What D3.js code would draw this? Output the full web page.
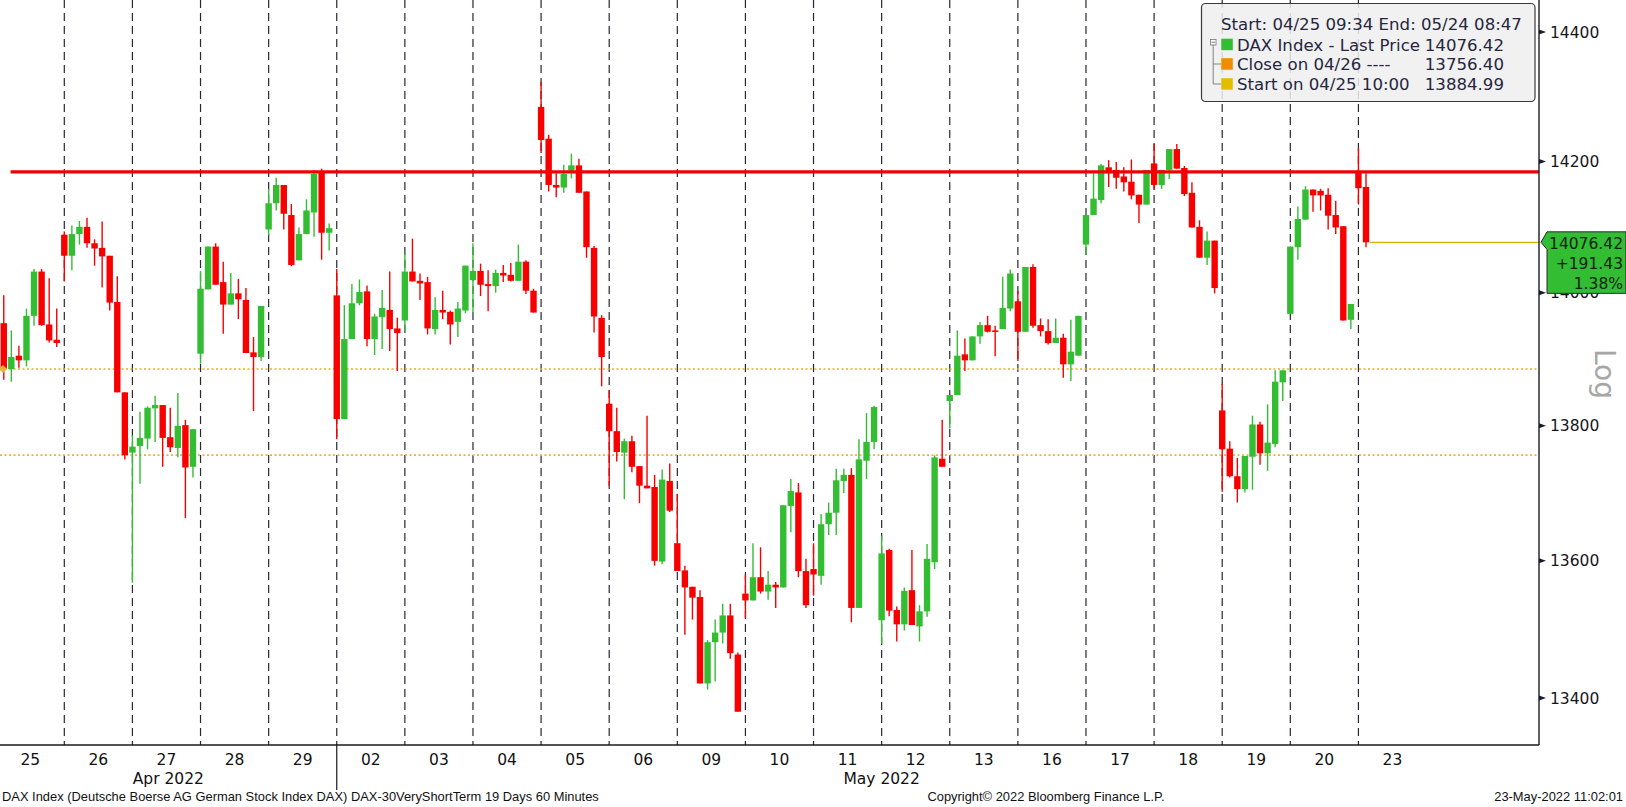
<!DOCTYPE html>
<html><head><meta charset="utf-8">
<script src="https://cdn.jsdelivr.net/npm/d3@7"></script>
<style>html,body{margin:0;padding:0;background:#fff;} svg{display:block;}</style>
</head><body>
<svg id="chart" width="1626" height="807"></svg>
<script>
// ---------------- DATA ----------------
const dayLabels = ["25","26","27","28","29","02","03","04","05","06","09","10","11","12","13","16","17","18","19","20","23"];
const monthLabels = ["Apr 2022", "May 2022"];
const monthFirstDay = [0, 5];          // index into dayLabels
const barsPerDay = [8,9,9,9,9,9,9,9,9,9,9,9,9,9,9,9,9,9,9,9,2];
const firstBarHour = [10,9,9,9,9,9,9,9,9,9,9,9,9,9,9,9,9,9,9,9,9];

const opens = [
 13954,13885,13905,13898,13965,14032,13952,13929,
 14088,14056,14089,14100,14075,14068,14056,13986,13850,
 13760,13770,13781,13826,13831,13783,13767,13801,13739,
 13908,14005,14070,14016,13982,13999,13989,13910,13903,
 14096,14136,14164,14118,14049,14089,14122,14184,14091,
 13996,13810,13930,13984,14002,13930,13963,13974,13946,
 13958,14032,14018,14016,13945,13974,13971,13956,13973,
 14019,14033,14013,14010,14030,14027,14018,14047,14003,
 14284,14235,14164,14160,14186,14194,14154,14068,13962,
 13833,13792,13760,13777,13740,13711,13709,13599,13718,
 13626,13586,13562,13547,13421,13481,13495,13520,13463,
 13552,13542,13576,13555,13565,13561,13681,13701,13585,
 13588,13578,13654,13671,13718,13727,13531,13748,13776,
 13513,13616,13528,13507,13557,13504,13526,13598,13751,
 13837,13846,13907,13898,13934,13951,13943,13945,13976,
 13987,13941,14039,13951,13942,13924,13932,13892,13905,
 14073,14118,14141,14191,14187,14177,14169,14149,14134,
 14197,14164,14187,14219,14190,14152,14100,14053,14079,
 13823,13766,13725,13706,13754,13802,13759,13773,13865,
 13968,14069,14111,14157,14155,14149,14118,14101,13959,
 14184,14161
];
const highs = [
 13996,13943,13920,13976,14036,14036,14022,13976,
 14093,14102,14109,14114,14081,14108,14056,14025,13850,
 13786,13821,13829,13845,13831,13827,13849,13809,13795,
 14033,14070,14075,14047,14030,14021,14007,13933,13980,
 14158,14175,14164,14135,14099,14142,14187,14189,14105,
 14036,13981,14013,14020,14011,13968,14004,14032,13962,
 14060,14082,14029,14024,13993,14003,13973,13986,14041,
 14075,14044,14034,14035,14042,14045,14073,14049,14006,
 14323,14241,14182,14195,14212,14204,14154,14071,13966,
 13853,13827,13781,13785,13740,13815,13727,13735,13744,
 13699,13593,13562,13557,13484,13514,13537,13537,13466,
 13579,13626,13620,13585,13569,13682,13721,13715,13603,
 13626,13669,13686,13736,13736,13737,13780,13819,13830,
 13637,13618,13533,13561,13616,13535,13625,13756,13809,
 13846,13943,13931,13934,13956,13965,13950,14024,14035,
 14003,14039,14043,13961,13960,13961,13938,13959,13965,
 14118,14182,14196,14202,14199,14191,14203,14149,14187,
 14227,14187,14219,14227,14193,14168,14110,14093,14079,
 13863,13777,13752,13755,13815,13806,13832,13883,13883,
 14070,14131,14162,14157,14158,14159,14140,14101,13983,
 14220,14182
];
const lows = [
 13869,13866,13887,13889,13950,13950,13925,13918,
 14017,14034,14073,14068,14041,14008,13973,13850,13750,
 13568,13714,13765,13776,13739,13761,13753,13663,13723,
 13893,14005,14012,13938,13982,13960,13909,13822,13897,
 14087,14125,14096,14040,14049,14089,14085,14050,14064,
 13780,13810,13930,13981,13919,13906,13915,13912,13882,
 13942,14017,13989,13937,13937,13960,13922,13933,13969,
 13969,13995,13972,14000,14016,14017,14018,13998,13970,
 14213,14154,14145,14152,14174,14152,14053,13940,13859,
 13711,13747,13691,13731,13685,13707,13593,13595,13672,
 13585,13492,13514,13421,13412,13424,13479,13457,13380,
 13516,13542,13552,13543,13531,13561,13642,13576,13531,
 13549,13565,13638,13638,13700,13510,13531,13721,13765,
 13479,13519,13482,13498,13506,13482,13518,13588,13739,
 13796,13846,13882,13898,13923,13940,13904,13945,13972,
 13897,13941,13947,13934,13922,13924,13872,13867,13905,
 14057,14118,14136,14161,14158,14154,14142,14106,14134,
 14157,14158,14173,14189,14147,14099,14053,14042,13999,
 13702,13723,13686,13701,13705,13742,13733,13768,13837,
 13968,14050,14111,14123,14125,14096,14089,13958,13945,
 14134,14069
];
const closes = [
 13884.99,13903,13898,13965,14032,13951,13928,13924,
 14056,14089,14100,14075,14067,14055,13985,13850,13756.40,
 13769,13782,13827,13831,13782,13768,13800,13738,13795,
 14006,14070,14012,13982,13999,13990,13909,13903,13980,
 14136,14164,14120,14042,14089,14125,14181,14091,14098,
 13810,13930,13984,14001,13930,13964,13977,13945,13939,
 14032,14017,14014,13946,13974,13970,13952,13976,14041,
 14033,14012,14010,14030,14026,14018,14047,14003,13970,
 14233,14164,14160,14181,14194,14152,14069,13964,13903,
 13792,13761,13777,13739,13711,13707,13600,13720,13674,
 13585,13561,13546,13421,13481,13495,13520,13465,13380,
 13542,13576,13555,13565,13561,13682,13703,13585,13535,
 13580,13654,13671,13719,13727,13531,13750,13776,13828,
 13611,13527,13507,13556,13506,13526,13603,13753,13739,
 13846,13905,13898,13934,13951,13941,13941,13977,14029,
 13941,14039,13950,13942,13924,13932,13892,13911,13965,
 14118,14143,14194,14182,14175,14168,14148,14134,14187,
 14164,14187,14219,14189,14150,14099,14053,14079,14007,
 13765,13725,13706,13755,13802,13759,13775,13866,13883,
 14070,14112,14157,14148,14148,14117,14099,13958,13983,
 14159,14076.42
];
const priceTicks = [13400, 13600, 13800, 14000, 14200, 14400];
const resistanceLevel = 14184;
const startLevel = 13884.99;   // Start on 04/25 10:00
const closeLevel = 13756.40;   // Close on 04/26
const lastPrice = 14076.42;
const legendHeader = "Start: 04/25 09:34 End: 05/24 08:47";
const legendNames = ["DAX Index - Last Price", "Close on 04/26 ----", "Start on 04/25 10:00"];
const legendValues = [lastPrice, closeLevel, startLevel];
const footerLeft = "DAX Index (Deutsche Boerse AG German Stock Index DAX) DAX-30VeryShortTerm 19 Days 60 Minutes";
const footerMid = "Copyright\u00A9 2022 Bloomberg Finance L.P.";
const footerRight = "23-May-2022 11:02:01";

// ---------------- BUILD ----------------
const W = 1626, H = 807;
const plotW = 1539, plotH = 745;
const HOURS = 9;
const UP = "#33bd33", DOWN = "#f80000";
const FONT = "'DejaVu Sans', Verdana, sans-serif";

const bars = [];
let k = 0;
barsPerDay.forEach((n, d) => {
  for (let i = 0; i < n; i++) {
    bars.push({slot: d * HOURS + (firstBarHour[d] - 9) + i,
      o: opens[k], h: highs[k], l: lows[k], c: closes[k]});
    k++;
  }
});

const svg = d3.select("#chart");
const x = d3.scaleLinear().domain([0.503, 203.86]).range([0, plotW]);
const y = d3.scaleLog().domain([13332, 14450]).range([plotH, 0]);

svg.append("rect").attr("width", W).attr("height", H).attr("fill", "#fff");

// legend box (under separators)
const lg = svg.append("g");
lg.append("rect").attr("x", 1201.5).attr("y", 3.5).attr("width", 333.5).attr("height", 98)
  .attr("rx", 4).attr("fill", "#efefef").attr("stroke", "#3a3a3a").attr("stroke-width", 1.2);

// day separators
const sepG = svg.append("g");
for (let j = 1; j < dayLabels.length; j++) {
  sepG.append("line").attr("x1", x(j * HOURS)).attr("x2", x(j * HOURS))
    .attr("y1", 0).attr("y2", plotH)
    .attr("stroke", "#1c1c2c").attr("stroke-width", 1.2).attr("stroke-dasharray", "8,5")
    .attr("opacity", 0.95);
}

// reference dotted lines
svg.append("line").attr("x1", 0).attr("x2", plotW).attr("y1", y(startLevel)).attr("y2", y(startLevel))
  .attr("stroke", "#e2b800").attr("stroke-width", 1.6).attr("stroke-dasharray", "2,2.5");
svg.append("line").attr("x1", 0).attr("x2", plotW).attr("y1", y(closeLevel)).attr("y2", y(closeLevel))
  .attr("stroke", "#f0ae3c").attr("stroke-width", 1.6).attr("stroke-dasharray", "2,2.5");

// candles
const bw = 6.4;
const cg = svg.append("g");
const cs = cg.selectAll("g.c").data(bars).join("g");
cs.append("line")
  .attr("x1", d => x(d.slot)).attr("x2", d => x(d.slot))
  .attr("y1", d => y(d.h)).attr("y2", d => y(d.l))
  .attr("stroke", d => d.c >= d.o ? UP : DOWN).attr("stroke-width", 1.4);
cs.append("rect")
  .attr("x", d => x(d.slot) - bw / 2).attr("width", bw)
  .attr("y", d => y(Math.max(d.o, d.c)))
  .attr("height", d => Math.max(1.5, Math.abs(y(d.o) - y(d.c))))
  .attr("fill", d => d.c >= d.o ? UP : DOWN);

// start marker
const sy = y(startLevel);
svg.append("path").attr("d", `M0,${sy - 4} L4,${sy} L0,${sy + 4} L-4,${sy} Z`)
  .attr("transform", "translate(3,0)").attr("fill", "#e8b43a");

// last price line
const lastBar = bars[bars.length - 1];
svg.append("line").attr("x1", x(lastBar.slot) + 4).attr("x2", plotW)
  .attr("y1", y(lastPrice)).attr("y2", y(lastPrice))
  .attr("stroke", "#dcb200").attr("stroke-width", 1.1);

// resistance line
svg.append("line").attr("x1", x(1.9)).attr("x2", plotW)
  .attr("y1", y(resistanceLevel)).attr("y2", y(resistanceLevel))
  .attr("stroke", "#f00000").attr("stroke-width", 3.2);

// legend contents
lg.raise();
lg.select("rect").attr("fill-opacity", 0.86);
lg.append("text").attr("x", 1221).attr("y", 30).text(legendHeader)
  .attr("font-family", FONT).attr("font-size", 16.6).attr("fill", "#262640");
const swatch = [UP, "#f08c00", "#e5bd00"];
const rowY = [44.5, 64, 84];
// tree lines
lg.append("rect").attr("x", 1210.5).attr("y", 39.5).attr("width", 5.5).attr("height", 5.5)
  .attr("fill", "#fff").attr("stroke", "#777").attr("stroke-width", 0.8);
lg.append("line").attr("x1", 1211.5).attr("x2", 1215).attr("y1", 42.2).attr("y2", 42.2).attr("stroke", "#555").attr("stroke-width", 0.8);
lg.append("path").attr("d", "M1213.2,45 V84 H1221 M1213.2,64 H1221")
  .attr("fill", "none").attr("stroke", "#777").attr("stroke-width", 0.9);
legendNames.forEach((nm, i) => {
  lg.append("rect").attr("x", 1221.3).attr("y", rowY[i] - 5.8).attr("width", 11.5).attr("height", 11.5)
    .attr("fill", swatch[i]);
  lg.append("text").attr("x", 1237).attr("y", rowY[i] + 6).text(nm)
    .attr("font-family", FONT).attr("font-size", 16.6).attr("fill", "#262640");
  lg.append("text").attr("x", 1504).attr("y", rowY[i] + 6).attr("text-anchor", "end")
    .text(legendValues[i].toFixed(2))
    .attr("font-family", FONT).attr("font-size", 16.6).attr("fill", "#262640");
});

// axes lines
svg.append("line").attr("x1", 0).attr("x2", plotW).attr("y1", plotH).attr("y2", plotH)
  .attr("stroke", "#1a1a1a").attr("stroke-width", 1.4);
svg.append("line").attr("x1", plotW).attr("x2", plotW).attr("y1", 0).attr("y2", plotH)
  .attr("stroke", "#1a1a2a").attr("stroke-width", 1.4);

// right price axis
const ya = svg.append("g");
priceTicks.forEach(t => {
  const ty = y(t);
  ya.append("path").attr("d", `M${plotW},${ty - 2.5} L${plotW + 7},${ty} L${plotW},${ty + 2.5} Z`)
    .attr("fill", "#1a1a2a");
  ya.append("text").attr("x", 1550).attr("y", ty).attr("dy", "0.36em").text(t)
    .attr("font-family", FONT).attr("font-size", 15.5).attr("fill", "#151520");
});

// Log label
svg.append("text").attr("transform", "translate(1595,374) rotate(90)")
  .attr("text-anchor", "middle").text("Log")
  .attr("font-family", FONT).attr("font-size", 28).attr("fill", "#a6a6a6");

// last price tag
const ly = y(lastPrice);
const chg = lastPrice - startLevel;
const pct = chg / startLevel * 100;
svg.append("path")
  .attr("d", `M1541,${ly} L1547,${ly - 10.5} H1626 V${ly + 51} H1547 V${ly + 7} Z`)
  .attr("fill", "#33bd33").attr("stroke", "#2a2a2a").attr("stroke-width", 1);
[lastPrice.toFixed(2), "+" + chg.toFixed(2), pct.toFixed(2) + "%"].forEach((s, i) => {
  svg.append("text").attr("x", 1623).attr("y", ly + 1 + i * 20).attr("dy", "0.36em")
    .attr("text-anchor", "end").text(s)
    .attr("font-family", FONT).attr("font-size", 15.5).attr("fill", "#0c240c");
});

// x axis labels
const xa = svg.append("g");
dayLabels.forEach((lab, j) => {
  xa.append("text").attr("x", x(j * HOURS + 4.5)).attr("y", 765).attr("text-anchor", "middle")
    .text(lab).attr("font-family", FONT).attr("font-size", 15.5).attr("fill", "#111");
});
// month labels and separator
const monthEnd = [monthFirstDay[1], dayLabels.length];
monthLabels.forEach((m, i) => {
  const cx = (Math.max(0, x(monthFirstDay[i] * HOURS)) + x(monthEnd[i] * HOURS)) / 2;
  xa.append("text").attr("x", cx).attr("y", 784).attr("text-anchor", "middle")
    .text(m).attr("font-family", FONT).attr("font-size", 15.5).attr("fill", "#111");
});
xa.append("line").attr("x1", x(monthFirstDay[1] * HOURS)).attr("x2", x(monthFirstDay[1] * HOURS))
  .attr("y1", plotH).attr("y2", 790).attr("stroke", "#1a1a1a").attr("stroke-width", 1.2);

// footer
const FF = "'Liberation Sans', Arial, sans-serif";
svg.append("text").attr("x", 2).attr("y", 801).text(footerLeft)
  .attr("font-family", FF).attr("font-size", 12.9).attr("fill", "#111");
svg.append("text").attr("x", 1046).attr("y", 801).attr("text-anchor", "middle").text(footerMid)
  .attr("font-family", FF).attr("font-size", 12.9).attr("fill", "#111");
svg.append("text").attr("x", 1623).attr("y", 801).attr("text-anchor", "end").text(footerRight)
  .attr("font-family", FF).attr("font-size", 12.9).attr("fill", "#111");
</script>
</body></html>
